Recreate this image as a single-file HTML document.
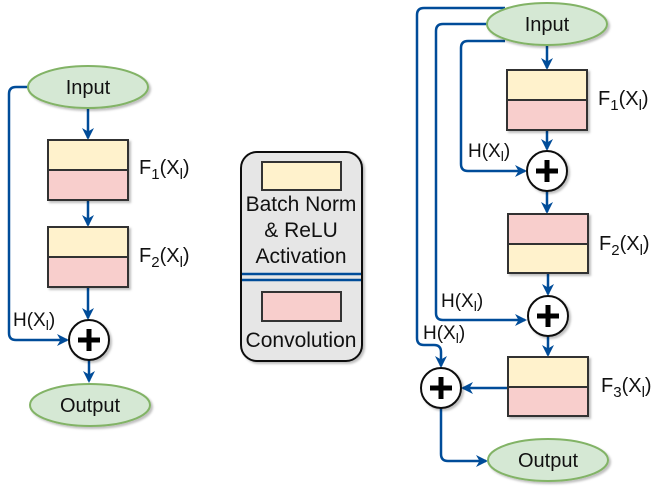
<!DOCTYPE html>
<html><head><meta charset="utf-8"><style>
html,body{margin:0;padding:0;background:#fff;}
svg{display:block;font-family:"Liberation Sans",sans-serif;}
</style></head><body>
<svg width="663" height="488" viewBox="0 0 663 488" xmlns="http://www.w3.org/2000/svg">
<defs>
<marker id="a" markerWidth="12" markerHeight="12" refX="10" refY="6" orient="auto" markerUnits="userSpaceOnUse">
<path d="M0,0 L12,6 L0,12 L3.5,6 Z" fill="#004C99"/></marker>
<filter id="s" x="-20%" y="-20%" width="140%" height="140%"><feDropShadow dx="2" dy="2" stdDeviation="1" flood-color="#000" flood-opacity="0.25"/></filter>
</defs>
<g stroke="#004C99" stroke-width="2.5" fill="none">
<line x1="88" y1="109" x2="88" y2="138" marker-end="url(#a)"/>
<line x1="88" y1="200" x2="88" y2="225" marker-end="url(#a)"/>
<line x1="88" y1="287" x2="88" y2="318" marker-end="url(#a)"/>
<line x1="89" y1="360" x2="89" y2="381" marker-end="url(#a)"/>
<path d="M28,87 H16 Q9,87 9,94 V333 Q9,340 16,340 H67" marker-end="url(#a)"/>
<path d="M505,8 H424 Q417,8 417,15 V338 Q417,345 424,345 H434 Q441,345 441,352 V366" marker-end="url(#a)"/>
<path d="M488,24 H443 Q436,24 436,31 V313 Q436,320 443,320 H525" marker-end="url(#a)"/>
<path d="M505,41 H468 Q461,41 461,48 V164 Q461,171 468,171 H525" marker-end="url(#a)"/>
<line x1="547" y1="46" x2="547" y2="68" marker-end="url(#a)"/>
<line x1="547" y1="130" x2="547" y2="149" marker-end="url(#a)"/>
<line x1="547" y1="191" x2="547" y2="212" marker-end="url(#a)"/>
<line x1="548" y1="273" x2="548" y2="294" marker-end="url(#a)"/>
<line x1="548" y1="336" x2="548" y2="355" marker-end="url(#a)"/>
<line x1="508" y1="388" x2="463" y2="388" marker-end="url(#a)"/>
<path d="M441,408 V454 Q441,461 448,461 H486" marker-end="url(#a)"/>
</g>
<g fill="#D5E8D4" stroke="#82B366" stroke-width="2" filter="url(#s)">
<ellipse cx="88" cy="87" rx="60" ry="21"/>
<ellipse cx="90" cy="405" rx="60" ry="21"/>
<ellipse cx="547" cy="24" rx="60" ry="21"/>
<ellipse cx="548" cy="460" rx="60" ry="21"/>
</g>
<g font-size="20" fill="#111" text-anchor="middle">
<text x="88" y="94">Input</text>
<text x="90" y="412">Output</text>
<text x="547" y="31">Input</text>
<text x="548" y="467">Output</text>
</g>
<g stroke="#333" stroke-width="2" filter="url(#s)">
<rect x="48" y="140" width="80" height="30" fill="#FFF2CC"/><rect x="48" y="170" width="80" height="30" fill="#F8CECC"/>
<rect x="48" y="227" width="80" height="30" fill="#FFF2CC"/><rect x="48" y="257" width="80" height="30" fill="#F8CECC"/>
<rect x="507" y="70" width="80" height="30" fill="#FFF2CC"/><rect x="507" y="100" width="80" height="30" fill="#F8CECC"/>
<rect x="508" y="214" width="80" height="30" fill="#F8CECC"/><rect x="508" y="244" width="80" height="29" fill="#FFF2CC"/>
<rect x="508" y="357" width="80" height="30" fill="#FFF2CC"/><rect x="508" y="387" width="80" height="29" fill="#F8CECC"/>
</g>
<rect x="241" y="152" width="121" height="209" rx="16" fill="#E6E6E6" stroke="#111" stroke-width="2" filter="url(#s)"/>
<rect x="262" y="162" width="79" height="28" fill="#FFF2CC" stroke="#333" stroke-width="2"/>
<rect x="262" y="292" width="79" height="29" fill="#F8CECC" stroke="#333" stroke-width="2"/>
<line x1="242" y1="274" x2="361" y2="274" stroke="#004C99" stroke-width="2.5"/>
<line x1="242" y1="280" x2="361" y2="280" stroke="#004C99" stroke-width="2.5"/>
<g font-size="21" fill="#111" text-anchor="middle">
<text x="301" y="211">Batch Norm</text>
<text x="301" y="237">&amp; ReLU</text>
<text x="301" y="263">Activation</text>
<text x="301" y="347">Convolution</text>
</g>
<g fill="#fff" stroke="#111" stroke-width="2" filter="url(#s)">
<circle cx="89" cy="340" r="20"/><circle cx="547" cy="171" r="20"/><circle cx="548" cy="316" r="20"/><circle cx="441" cy="388" r="20"/>
</g>
<g stroke="#000" stroke-width="5">
<path d="M78,340 H100 M89,329 V351"/>
<path d="M536,171 H558 M547,160 V182"/>
<path d="M537,316 H559 M548,305 V327"/>
<path d="M430,388 H452 M441,377 V399"/>
</g>
<g font-size="20" fill="#111">
<text x="139" y="174">F<tspan font-size="15" dy="5">1</tspan><tspan dy="-5">(X</tspan><tspan font-size="15" dy="5">l</tspan><tspan dy="-5">)</tspan></text>
<text x="139" y="262">F<tspan font-size="15" dy="5">2</tspan><tspan dy="-5">(X</tspan><tspan font-size="15" dy="5">l</tspan><tspan dy="-5">)</tspan></text>
<text x="598" y="105">F<tspan font-size="15" dy="5">1</tspan><tspan dy="-5">(X</tspan><tspan font-size="15" dy="5">l</tspan><tspan dy="-5">)</tspan></text>
<text x="599" y="250">F<tspan font-size="15" dy="5">2</tspan><tspan dy="-5">(X</tspan><tspan font-size="15" dy="5">l</tspan><tspan dy="-5">)</tspan></text>
<text x="601" y="392">F<tspan font-size="15" dy="5">3</tspan><tspan dy="-5">(X</tspan><tspan font-size="15" dy="5">l</tspan><tspan dy="-5">)</tspan></text>
</g>
<g font-size="19" fill="#111">
<text x="13" y="326">H(X<tspan font-size="14" dy="4">l</tspan><tspan dy="-4">)</tspan></text>
<text x="468" y="157">H(X<tspan font-size="14" dy="4">l</tspan><tspan dy="-4">)</tspan></text>
<text x="441" y="307">H(X<tspan font-size="14" dy="4">l</tspan><tspan dy="-4">)</tspan></text>
<text x="423" y="339">H(X<tspan font-size="14" dy="4">l</tspan><tspan dy="-4">)</tspan></text>
</g>
</svg>
</body></html>
